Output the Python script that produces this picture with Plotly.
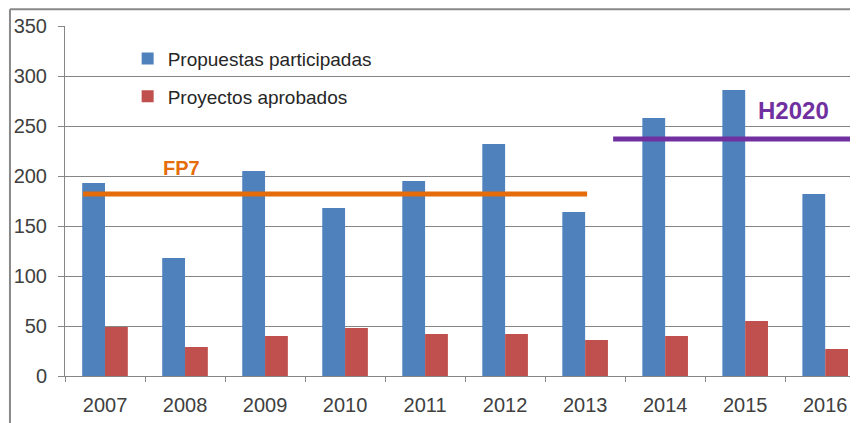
"""Propuestas participadas vs proyectos aprobados, 2007-2016 (FP7 / H2020)."""

import plotly.graph_objects as go

YEARS = ["2007", "2008", "2009", "2010", "2011", "2012", "2013", "2014", "2015", "2016"]
PROPUESTAS = [193, 118, 205, 168, 195, 232, 164, 258, 286, 182]
APROBADOS = [49, 29, 40, 48, 42, 42, 36, 40, 55, 27]

# programme reference levels: (label, level, x from, x to, colour, font size, label x, label y)
PROGRAMMES = [
    ("FP7", 182, -0.275, 6.025, "#E46C0A", 20, 0.95, 208),
    ("H2020", 237, 6.35, 9.5, "#7030A0", 24, 8.61, 266),
]

FONT = "Liberation Sans"

fig = go.Figure()
fig.add_trace(go.Bar(
    x=YEARS, y=PROPUESTAS, name="Propuestas participadas",
    marker=dict(color="#4F81BD", line=dict(width=0)), legendgroup="a",
))
fig.add_trace(go.Bar(
    x=YEARS, y=APROBADOS, name="Proyectos aprobados",
    marker=dict(color="#C0504D", line=dict(width=0)), legendgroup="b",
))

for label, level, x0, x1, color, size, tx, ty in PROGRAMMES:
    fig.add_shape(type="line", xref="x", yref="y", x0=x0, x1=x1, y0=level, y1=level,
                  line=dict(color=color, width=5), layer="above")
    fig.add_annotation(x=tx, y=ty, xref="x", yref="y", text=f"<b>{label}</b>",
                       showarrow=False, font=dict(family=FONT, size=size, color=color))

# outer chart frame (left and top edges visible)
fig.add_shape(type="line", xref="paper", yref="paper", x0=-0.0694, x1=1.05, y0=1.048, y1=1.048,
              line=dict(color="#898989", width=2))
fig.add_shape(type="line", xref="paper", yref="paper", x0=-0.0694, x1=-0.0694, y0=-0.2, y1=1.048,
              line=dict(color="#898989", width=2))

# the page body adds an 8px offset, so the figure is 8px smaller on each axis
fig.update_layout(
    width=850, height=415,
    margin=dict(l=57, r=0, t=18, b=47, autoexpand=False),
    paper_bgcolor="white", plot_bgcolor="white",
    barmode="group", bargap=0.43, bargroupgap=0,
    font=dict(family=FONT, size=20, color="#404040"),
    showlegend=True,
    legend=dict(x=0.079, y=0.961, xanchor="left", yanchor="top",
                font=dict(size=19, color="#262626"), tracegroupgap=10,
                bgcolor="rgba(0,0,0,0)"),
)
fig.update_xaxes(
    type="category", range=[-0.5, 9.41], automargin=False,
    showline=True, linecolor="#868686", linewidth=1,
    ticks="outside", tickson="boundaries", ticklen=5, tickcolor="#868686",
    showgrid=False, ticklabelstandoff=11,
)
fig.update_yaxes(
    range=[0, 350], dtick=50, automargin=False,
    showline=True, linecolor="#868686", linewidth=1,
    ticks="outside", ticklen=6, tickcolor="#868686",
    gridcolor="#868686", gridwidth=1, zeroline=False,
    ticklabelstandoff=7,
)

fig.write_html("out.html")
